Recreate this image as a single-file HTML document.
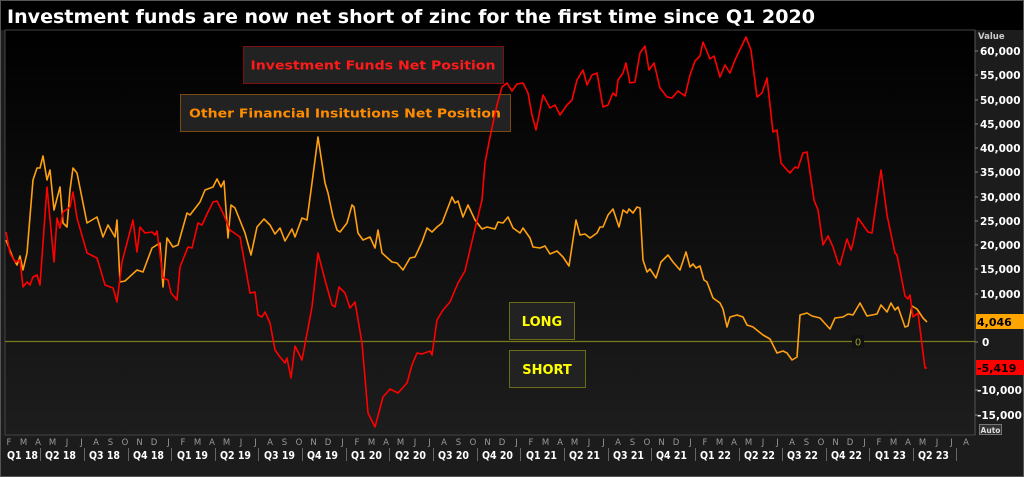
<!DOCTYPE html>
<html><head><meta charset="utf-8"><style>
html,body{margin:0;padding:0;background:#1c1c1c;}
svg{display:block;font-family:"DejaVu Sans","Liberation Sans",sans-serif;}
</style></head><body>
<svg width="1024" height="477" viewBox="0 0 1024 477" xmlns="http://www.w3.org/2000/svg">
<defs>
<linearGradient id="bg" x1="0" y1="0" x2="0" y2="1">
<stop offset="0" stop-color="#000"/><stop offset="1" stop-color="#1d1d1d"/>
</linearGradient>
</defs>
<rect x="0" y="0" width="1024" height="477" fill="#1c1c1c"/>
<rect x="0.5" y="0.5" width="1023" height="476" fill="none" stroke="#555"/>
<rect x="1" y="1" width="1022" height="29" fill="#000"/>
<text x="7" y="23" fill="#fff" font-size="19" font-weight="bold" textLength="808" lengthAdjust="spacingAndGlyphs">Investment funds are now net short of zinc for the first time since Q1 2020</text>
<rect x="5" y="30" width="970" height="405" fill="url(#bg)" stroke="#444"/>
<line x1="975" y1="30" x2="975" y2="435" stroke="#555"/>
<line x1="5" y1="341.5" x2="975" y2="341.5" stroke="#7a7a1e" stroke-width="1.3"/>
<rect x="852" y="335" width="12" height="13" fill="#111"/>
<text x="858" y="345.5" fill="#9a9a2a" font-size="10" text-anchor="middle">0</text>
<rect x="243.5" y="46.5" width="260" height="37" fill="#222" stroke="#7a1010"/>
<text x="373" y="69.5" fill="#ff1a1a" font-size="12.5" font-weight="bold" text-anchor="middle" textLength="245" lengthAdjust="spacingAndGlyphs">Investment Funds Net Position</text>
<rect x="180.5" y="94.5" width="330" height="37" fill="#222" stroke="#7a4a10"/>
<text x="345" y="117.5" fill="#ff8c00" font-size="12.5" font-weight="bold" text-anchor="middle" textLength="312" lengthAdjust="spacingAndGlyphs">Other Financial Insitutions Net Position</text>
<rect x="509.5" y="302.5" width="65" height="37" fill="#222" stroke="#6b6b1a"/>
<text x="542" y="326" fill="#ffff00" font-size="13" font-weight="bold" text-anchor="middle">LONG</text>
<rect x="509.5" y="350.5" width="76" height="37" fill="#222" stroke="#6b6b1a"/>
<text x="547" y="374" fill="#ffff00" font-size="13" font-weight="bold" text-anchor="middle">SHORT</text>
<polyline fill="none" stroke="#ffa010" stroke-width="1.6" stroke-linejoin="round" points="6,240 13,258 17,265 20,256 23,270 27,253 33,180 37,168 40,168 43,156 47,180 50,170 54,210 60,187 63,223 67,227 70,190 73,168 77,173 87,223 92,220 97,217 103,237 108,225 115,237 117,220 120,282 125,281 137,270 143,272 152,248 160,243 163,287 167,238 173,247 178,245 187,213 190,215 200,202 205,190 213,187 217,179 221,187 224,181 228,238 231,205 235,208 245,233 251,255 257,227 264,219 270,225 275,234 280,228 285,241 292,229 295,237 302,218 307,220 312,183 318,137 325,183 328,193 333,217 337,230 340,232 347,223 352,205 354,207 358,233 363,240 370,237 375,248 378,230 382,253 392,262 397,263 403,270 410,258 415,257 422,242 427,228 432,232 437,227 442,223 447,210 452,197 455,203 458,201 463,217 468,205 475,220 482,229 487,227 495,229 498,222 503,223 508,217 513,228 520,233 523,228 530,238 533,247 540,248 545,246 550,254 557,251 563,257 569,266 576,220 580,235 585,234 590,238 597,233 600,227 603,227 608,215 613,209 619,227 623,210 627,213 629,209 633,213 637,207 640,208 643,260 647,272 650,269 656,278 661,262 668,255 673,262 680,270 686,252 690,267 693,264 696,268 700,266 704,280 707,282 713,298 720,303 723,309 727,327 730,317 737,315 743,317 747,325 753,327 763,335 770,339 777,353 783,351 787,353 792,360 797,357 800,315 807,313 812,316 820,318 830,329 835,318 843,317 848,314 853,315 860,303 867,316 877,314 881,305 887,312 891,303 895,310 898,307 905,327 908,326 912,306 917,309 923,318 927,322"/>
<polyline fill="none" stroke="#ff0000" stroke-width="1.6" stroke-linejoin="round" points="6,232 10,253 15,262 20,260 23,287 27,282 30,285 33,277 37,275 40,285 47,187 54,262 57,218 60,228 63,212 70,207 73,192 77,218 87,253 97,258 105,285 113,288 117,302 122,262 133,220 137,252 140,227 145,233 152,232 155,235 157,231 163,278 168,280 171,293 177,300 180,267 188,247 192,248 198,223 202,225 208,212 213,202 217,201 223,213 230,230 240,237 250,293 255,292 258,315 262,317 265,312 270,323 275,350 280,357 285,363 287,358 291,378 295,346 302,360 312,307 318,253 325,280 332,305 335,307 339,287 345,293 350,308 355,302 362,343 368,413 375,427 383,397 390,389 398,393 407,383 412,365 417,353 422,354 430,351 432,355 437,320 443,310 450,302 458,283 465,271 473,237 482,200 485,163 490,137 497,105 502,87 507,83 512,91 517,84 523,83 528,93 532,115 536,130 543,95 550,108 555,105 560,115 567,105 572,100 577,80 583,70 587,85 592,75 597,73 603,107 608,105 613,93 616,96 618,80 623,73 626,63 630,83 635,82 640,53 645,46 649,70 654,63 660,88 667,97 672,98 678,91 685,96 690,75 695,61 700,56 703,42 710,59 714,56 720,77 725,65 730,73 735,60 746,37 751,50 757,97 762,93 767,78 773,132 777,130 781,163 787,170 790,173 795,167 798,168 803,153 807,152 814,200 818,210 823,245 828,236 833,247 838,263 840,265 847,239 851,250 853,243 858,218 868,232 872,233 881,170 887,215 895,253 897,255 905,296 908,299 910,295 913,317 918,313 925,368 927,368"/>
<g fill="#fff" font-size="10.5" font-weight="bold">
<text x="978" y="39" fill="#ccc" font-size="8.5">Value</text>
<text x="980" y="55">60,000</text>
<text x="980" y="79">55,000</text>
<text x="980" y="104">50,000</text>
<text x="980" y="128">45,000</text>
<text x="980" y="152">40,000</text>
<text x="980" y="176">35,000</text>
<text x="980" y="201">30,000</text>
<text x="980" y="225">25,000</text>
<text x="980" y="249">20,000</text>
<text x="980" y="273">15,000</text>
<text x="980" y="298">10,000</text>
<text x="982" y="346">0</text>
<text x="977" y="394">-10,000</text>
<text x="977" y="419">-15,000</text>
</g>
<g stroke="#888"><line x1="975" y1="51" x2="978" y2="51"/><line x1="975" y1="75" x2="978" y2="75"/><line x1="975" y1="100" x2="978" y2="100"/><line x1="975" y1="124" x2="978" y2="124"/><line x1="975" y1="148" x2="978" y2="148"/><line x1="975" y1="172" x2="978" y2="172"/><line x1="975" y1="197" x2="978" y2="197"/><line x1="975" y1="221" x2="978" y2="221"/><line x1="975" y1="245" x2="978" y2="245"/><line x1="975" y1="269" x2="978" y2="269"/><line x1="975" y1="294" x2="978" y2="294"/><line x1="975" y1="342" x2="978" y2="342"/><line x1="975" y1="390" x2="978" y2="390"/><line x1="975" y1="415" x2="978" y2="415"/></g>
<rect x="976" y="314" width="48" height="15" fill="#ffa500"/>
<text x="977" y="326" fill="#000" font-size="11" font-weight="bold">4,046</text>
<rect x="976" y="360" width="48" height="15" fill="#ff0000"/>
<text x="977" y="372" fill="#000" font-size="11" font-weight="bold">-5,419</text>
<rect x="979.5" y="424.5" width="22" height="10" fill="#333" stroke="#777"/>
<text x="990.5" y="433" fill="#ddd" font-size="7.5" font-weight="bold" text-anchor="middle">Auto</text>
<g fill="#999" font-size="8.5" text-anchor="middle">
<text x="9" y="445">F</text><text x="23.5" y="445">M</text><text x="38" y="445">A</text><text x="52.5" y="445">M</text><text x="67" y="445">J</text><text x="81.5" y="445">J</text><text x="96" y="445">A</text><text x="110.5" y="445">S</text><text x="125" y="445">O</text><text x="139.5" y="445">N</text><text x="154" y="445">D</text><text x="168.5" y="445">J</text>
<text x="183" y="445">F</text><text x="197.5" y="445">M</text><text x="212" y="445">A</text><text x="226.5" y="445">M</text><text x="241" y="445">J</text><text x="255.5" y="445">J</text><text x="270" y="445">A</text><text x="284.5" y="445">S</text><text x="299" y="445">O</text><text x="313.5" y="445">N</text><text x="328" y="445">D</text><text x="342.5" y="445">J</text>
<text x="357" y="445">F</text><text x="371.5" y="445">M</text><text x="386" y="445">A</text><text x="400.5" y="445">M</text><text x="415" y="445">J</text><text x="429.5" y="445">J</text><text x="444" y="445">A</text><text x="458.5" y="445">S</text><text x="473" y="445">O</text><text x="487.5" y="445">N</text><text x="502" y="445">D</text><text x="516.5" y="445">J</text>
<text x="531" y="445">F</text><text x="545.5" y="445">M</text><text x="560" y="445">A</text><text x="574.5" y="445">M</text><text x="589" y="445">J</text><text x="603.5" y="445">J</text><text x="618" y="445">A</text><text x="632.5" y="445">S</text><text x="647" y="445">O</text><text x="661.5" y="445">N</text><text x="676" y="445">D</text><text x="690.5" y="445">J</text>
<text x="705" y="445">F</text><text x="719.5" y="445">M</text><text x="734" y="445">A</text><text x="748.5" y="445">M</text><text x="763" y="445">J</text><text x="777.5" y="445">J</text><text x="792" y="445">A</text><text x="806.5" y="445">S</text><text x="821" y="445">O</text><text x="835.5" y="445">N</text><text x="850" y="445">D</text><text x="864.5" y="445">J</text>
<text x="879" y="445">F</text><text x="893.5" y="445">M</text><text x="908" y="445">A</text><text x="922.5" y="445">M</text><text x="937" y="445">J</text><text x="951.5" y="445">J</text><text x="966" y="445">A</text>
</g>
<g fill="#fff" font-size="10.5" font-weight="bold">
<text x="7" y="459" textLength="31" lengthAdjust="spacingAndGlyphs">Q1 18</text><text x="45" y="459" textLength="31" lengthAdjust="spacingAndGlyphs">Q2 18</text><text x="89" y="459" textLength="31" lengthAdjust="spacingAndGlyphs">Q3 18</text><text x="133" y="459" textLength="31" lengthAdjust="spacingAndGlyphs">Q4 18</text>
<text x="177" y="459" textLength="31" lengthAdjust="spacingAndGlyphs">Q1 19</text><text x="220" y="459" textLength="31" lengthAdjust="spacingAndGlyphs">Q2 19</text><text x="264" y="459" textLength="31" lengthAdjust="spacingAndGlyphs">Q3 19</text><text x="307" y="459" textLength="31" lengthAdjust="spacingAndGlyphs">Q4 19</text>
<text x="351" y="459" textLength="31" lengthAdjust="spacingAndGlyphs">Q1 20</text><text x="395" y="459" textLength="31" lengthAdjust="spacingAndGlyphs">Q2 20</text><text x="438" y="459" textLength="31" lengthAdjust="spacingAndGlyphs">Q3 20</text><text x="482" y="459" textLength="31" lengthAdjust="spacingAndGlyphs">Q4 20</text>
<text x="526" y="459" textLength="31" lengthAdjust="spacingAndGlyphs">Q1 21</text><text x="569" y="459" textLength="31" lengthAdjust="spacingAndGlyphs">Q2 21</text><text x="613" y="459" textLength="31" lengthAdjust="spacingAndGlyphs">Q3 21</text><text x="656" y="459" textLength="31" lengthAdjust="spacingAndGlyphs">Q4 21</text>
<text x="700" y="459" textLength="31" lengthAdjust="spacingAndGlyphs">Q1 22</text><text x="744" y="459" textLength="31" lengthAdjust="spacingAndGlyphs">Q2 22</text><text x="787" y="459" textLength="31" lengthAdjust="spacingAndGlyphs">Q3 22</text><text x="831" y="459" textLength="31" lengthAdjust="spacingAndGlyphs">Q4 22</text>
<text x="875" y="459" textLength="31" lengthAdjust="spacingAndGlyphs">Q1 23</text><text x="918" y="459" textLength="31" lengthAdjust="spacingAndGlyphs">Q2 23</text>
</g>
<g stroke="#666"><line x1="40.5" y1="448" x2="40.5" y2="461"/><line x1="84.5" y1="448" x2="84.5" y2="461"/><line x1="128.5" y1="448" x2="128.5" y2="461"/><line x1="171.5" y1="448" x2="171.5" y2="461"/><line x1="215.5" y1="448" x2="215.5" y2="461"/><line x1="258.5" y1="448" x2="258.5" y2="461"/><line x1="302.5" y1="448" x2="302.5" y2="461"/><line x1="346.5" y1="448" x2="346.5" y2="461"/><line x1="389.5" y1="448" x2="389.5" y2="461"/><line x1="433.5" y1="448" x2="433.5" y2="461"/><line x1="477.5" y1="448" x2="477.5" y2="461"/><line x1="520.5" y1="448" x2="520.5" y2="461"/><line x1="564.5" y1="448" x2="564.5" y2="461"/><line x1="608.5" y1="448" x2="608.5" y2="461"/><line x1="651.5" y1="448" x2="651.5" y2="461"/><line x1="695.5" y1="448" x2="695.5" y2="461"/><line x1="739.5" y1="448" x2="739.5" y2="461"/><line x1="782.5" y1="448" x2="782.5" y2="461"/><line x1="826.5" y1="448" x2="826.5" y2="461"/><line x1="869.5" y1="448" x2="869.5" y2="461"/><line x1="913.5" y1="448" x2="913.5" y2="461"/><line x1="956.5" y1="448" x2="956.5" y2="461"/></g>
</svg>
</body></html>
